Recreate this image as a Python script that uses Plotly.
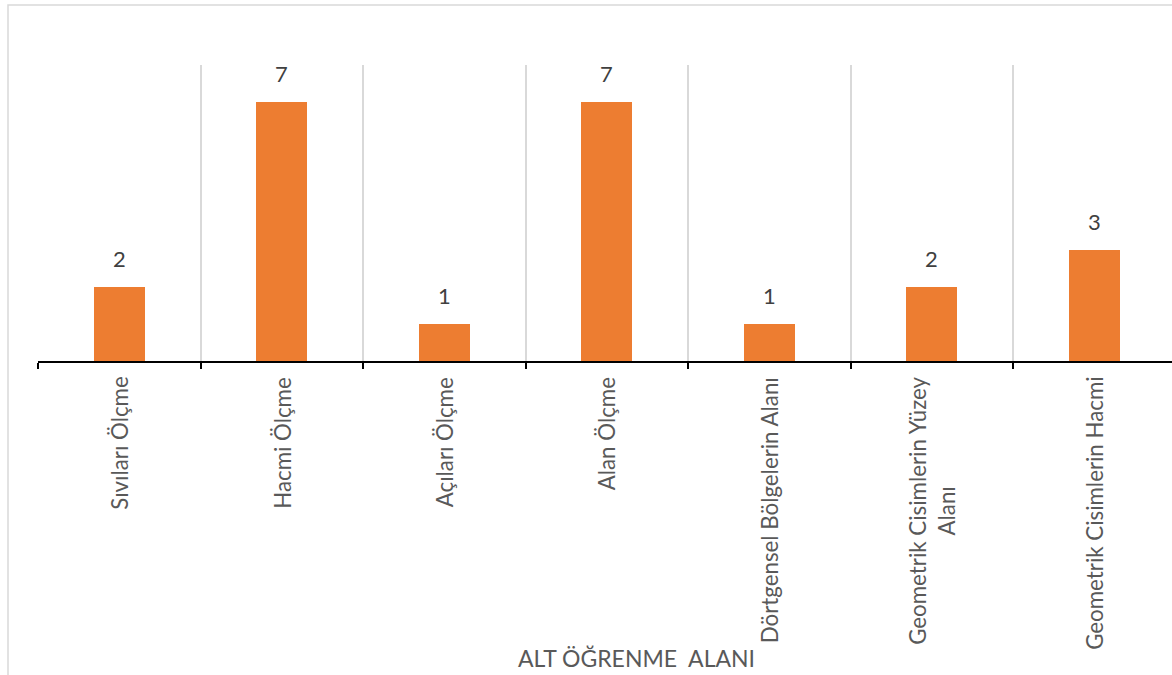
import plotly.graph_objects as go

categories = ["Sıvıları Ölçme", "Hacmi Ölçme", "Açıları Ölçme", "Alan Ölçme",
              "Dörtgensel Bölgelerin Alanı", "Geometrik Cisimlerin Yüzey<br>Alanı",
              "Geometrik Cisimlerin Hacmi"]
values = [2, 7, 1, 7, 1, 2, 3]
axis_title = "ALT ÖĞRENME  ALANI"

FONT = "Lato"
W, H = 1172, 675
ML, MT, MB, MR = 38, 65, 314, 0
pw = W - ML - MR
ph = H - MT - MB

fig = go.Figure()
fig.add_trace(go.Bar(
    x=categories, y=values, width=0.314,
    marker=dict(color="#ED7D31", line=dict(width=0)),
    hoverinfo="skip",
))

annotations = []
for c, v in zip(categories, values):
    annotations.append(dict(x=c, y=v, xref="x", yref="y", text=str(v), showarrow=False,
                            yanchor="bottom", yshift=13,
                            font=dict(family=FONT, size=22, color="#404040")))
    annotations.append(dict(x=c, y=0, xref="x", yref="y", text=c, showarrow=False,
                            yanchor="top", xanchor="center", yshift=-14, textangle=-90,
                            align="center",
                            font=dict(family=FONT, size=22.3, color="#595959")))

annotations.append(dict(x=(636 - ML) / pw, y=(361 - 658) / ph, xref="paper", yref="paper",
                        text=axis_title, showarrow=False, xanchor="center", yanchor="middle",
                        font=dict(family=FONT, size=23, color="#595959")))

fig.update_layout(
    width=W, height=H,
    margin=dict(l=ML, r=MR, t=MT, b=MB, pad=0),
    paper_bgcolor="white", plot_bgcolor="white",
    showlegend=False,
    bargap=0,
    xaxis=dict(type="category", range=[-0.5, 6.478], tickson="boundaries",
               showgrid=True, gridcolor="#d9d9d9", gridwidth=2,
               showline=True, linecolor="black", linewidth=1.5,
               ticks="outside", ticklen=6, tickwidth=1.5, tickcolor="black",
               showticklabels=False, zeroline=False, fixedrange=True),
    yaxis=dict(range=[0, 8], showgrid=False, showticklabels=False, zeroline=False,
               showline=False, ticks="", fixedrange=True),
    annotations=annotations,
    shapes=[dict(type="rect", xref="paper", yref="paper",
                 x0=(8 - ML) / pw, x1=1.05, y0=-1.2, y1=(361 - 5) / ph,
                 line=dict(color="#d9d9d9", width=1.5), fillcolor="rgba(0,0,0,0)",
                 layer="below")],
)

fig.write_html("out.html", config={"displayModeBar": False})
